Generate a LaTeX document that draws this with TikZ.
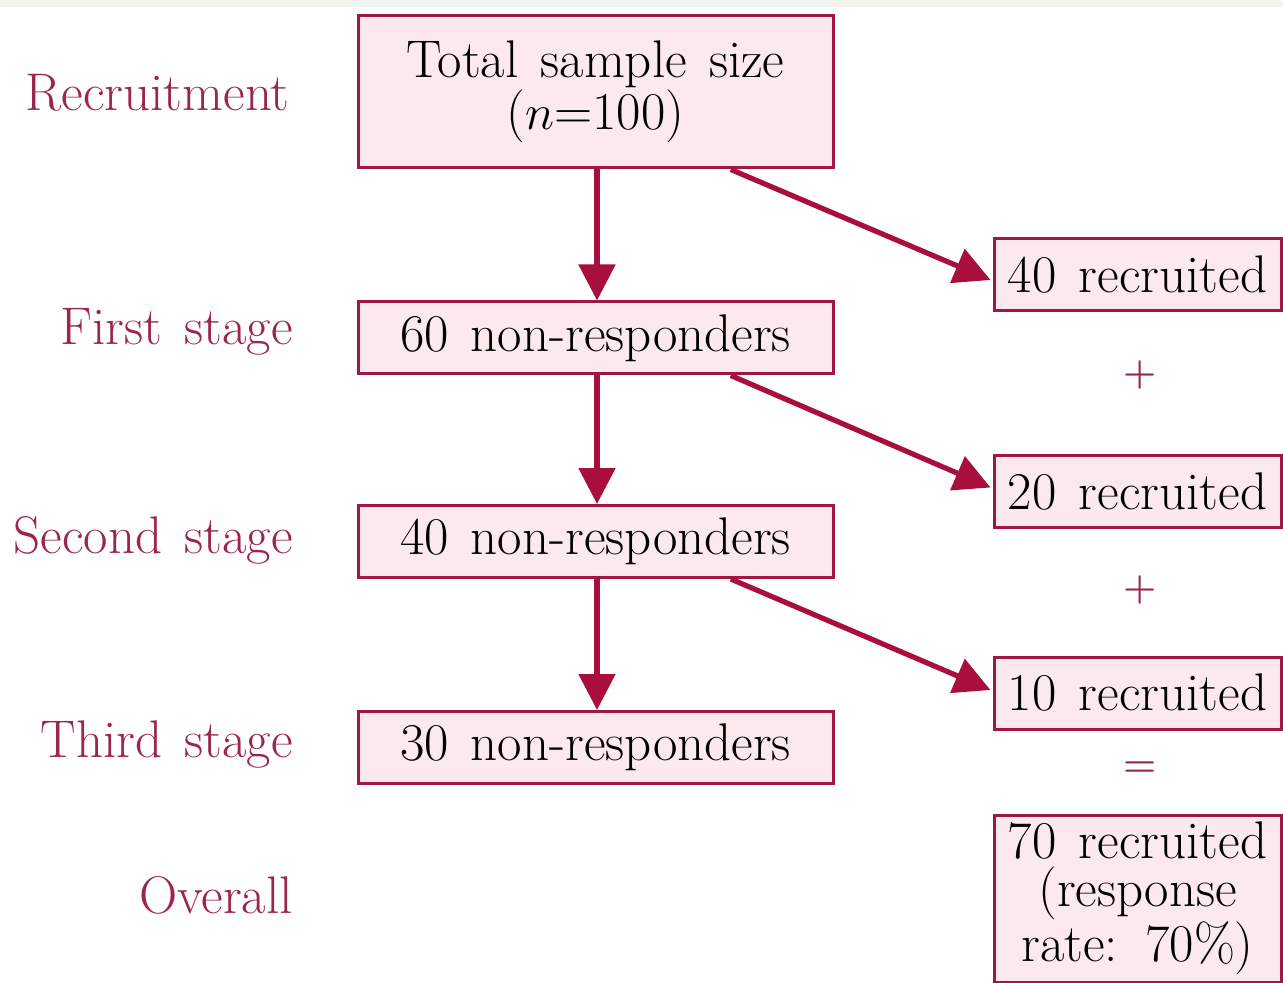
\documentclass[tikz,border=0pt]{standalone}
\usetikzlibrary{arrows.meta,calc}
\definecolor{boxline}{HTML}{A01842}
\definecolor{boxfill}{HTML}{FCE9ED}
\definecolor{arrowred}{HTML}{A80F3C}
\definecolor{stagetext}{HTML}{9C2450}
\definecolor{topband}{HTML}{F3F3EF}
\newcommand{\flowfont}{\fontsize{26.5}{24}\selectfont\spaceskip=0.42em plus 0.1em\relax}
\begin{document}
\begin{tikzpicture}[x=0.5pt,y=-0.5pt,
  every node/.style={font=\flowfont},
  stagebox/.style={draw=boxline,fill=boxfill,line width=1.5pt,
    minimum width=237.5pt,minimum height=36pt,inner sep=0pt},
  recbox/.style={draw=boxline,fill=boxfill,line width=1.5pt,
    minimum width=143.5pt,minimum height=36pt,inner sep=0pt},
  stagelabel/.style={anchor=east,text=stagetext,inner sep=0pt},
  opsign/.style={text=stagetext,font=\fontsize{19}{20}\selectfont\bfseries},
  flow/.style={draw=arrowred,line width=2.6pt,
    -{Triangle[length=18pt,width=18pt]}}]
\useasboundingbox (0,0) rectangle (1283,983);
\fill[topband] (0,0) rectangle (1283,7);

% left column: stages
\node[stagebox,minimum height=76pt,align=center] (total) at (595.5,92)
  {Total sample size\\($n$=100)};
\node[stagebox] (s1) at (595.5,338) {60 non-responders};
\node[stagebox] (s2) at (595.5,541.5) {40 non-responders};
\node[stagebox] (s3) at (595.5,747.5) {30 non-responders};

% right column: recruited counts
\node[recbox] (r1) at (1137.5,275) {40 recruited};
\node[recbox] (r2) at (1137.5,491.5) {20 recruited};
\node[recbox] (r3) at (1137.5,693) {10 recruited};
\node[recbox,minimum height=83.5pt,align=center] (r4) at (1137.5,898.5)
  {70 recruited\\(response\\rate: 70\%)};

\node[opsign] (p1) at (1140,375) {+};
\node[opsign] (p2) at (1140,590) {+};
\node[opsign] (eq) at (1140,769) {=};

% stage labels
\node[stagelabel] (l0) at (290,93) {Recruitment};
\node[stagelabel] (l1) at (293,332) {First stage};
\node[stagelabel] (l2) at (293,540) {Second stage};
\node[stagelabel] (l3) at (293,745) {Third stage};
\node[stagelabel] (l4) at (293,895) {Overall};

% connectors
\draw[flow] ([xshift=0.75pt]total.south) -- ([xshift=0.75pt]s1.north);
\draw[flow] ([xshift=0.75pt]s1.south) -- ([xshift=0.75pt]s2.north);
\draw[flow] ([xshift=0.75pt]s2.south) -- ([xshift=0.75pt]s3.north);
\draw[flow] ($(total.south)!0.566!(total.south east)$) -- ([xshift=-1pt,yshift=-2.5pt]r1.west);
\draw[flow] ($(s1.south)!0.566!(s1.south east)$) -- ([xshift=-1pt,yshift=2pt]r2.west);
\draw[flow] ($(s2.south)!0.566!(s2.south east)$) -- ([xshift=-1pt,yshift=1.5pt]r3.west);
\end{tikzpicture}
\end{document}
